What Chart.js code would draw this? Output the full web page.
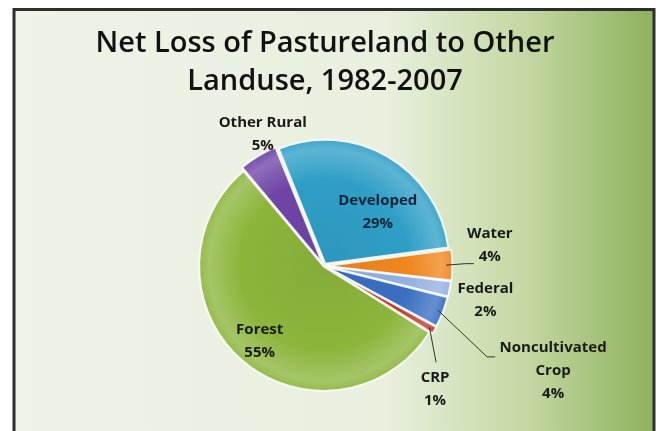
<!DOCTYPE html>
<html>
<head>
<meta charset="utf-8">
<title>Net Loss of Pastureland to Other Landuse, 1982-2007</title>
<script src="https://cdn.jsdelivr.net/npm/chart.js@4.4.1/dist/chart.umd.min.js"></script>
<style>
  html, body { margin: 0; padding: 0; background: #fff; }
  #wrap { width: 660px; height: 431px; }
</style>
</head>
<body>
<div id="wrap"><canvas id="lossChart" width="660" height="431"></canvas></div>
<script>
// Share of pastureland lost to each use, 1982-2007 (percent)
const categories = ['Developed', 'Water', 'Federal', 'Noncultivated Crop', 'CRP', 'Forest', 'Other Rural'];
const shares = [29, 4, 2, 4, 1, 55, 5];
const sliceColors = ['#2f9fc6', '#f0871f', '#94b1e2', '#3a6fc2', '#c23a2c', '#8cb53c', '#6f45a6'];
const sliceOffsets = [10, 10, 8, 8, 8, 2, 10];

// label text lines, and where each one sits (distance from centre, angle in degrees)
const labelLines = [
    ['Developed', '29%'], ['Water', '4%'], ['Federal', '2%'],
    ['Noncultivated', 'Crop', '4%'], ['CRP', '1%'], ['Forest', '55%'], ['Other Rural', '5%']
];
const labelPlace = [
    { r: 76, deg: -45 }, { r: 167, deg: -7 }, { r: 165, deg: 12 },
    { r: 252, deg: 24.6 }, { r: 166, deg: 48 }, { r: 99, deg: 130.5 }, { r: 145, deg: -115 }
];
// leader lines: elbow and end, relative to the label centre
const leaders = [
    null,
    [[-24, 18], [-16, 18]],
    null,
    [[-66, -14], [-58, -14]],
    [[1, -27], [1, -27]],
    null, null
];

function shade(hex, amt) {
    const n = parseInt(hex.slice(1), 16);
    let r = n >> 16, g = (n >> 8) & 255, b = n & 255;
    const f = c => Math.max(0, Math.min(255, Math.round(amt >= 0 ? c + (255 - c) * amt : c * (1 + amt))));
    return 'rgb(' + f(r) + ',' + f(g) + ',' + f(b) + ')';
}

// bevel-ish fill: base colour, lighter band near the rim, darker edge
function sliceFill(context) {
    const chart = context.chart;
    const area = chart.chartArea;
    const base = sliceColors[context.dataIndex];
    if (!area) return base;
    const cx = (area.left + area.right) / 2;
    const cy = (area.top + area.bottom) / 2;
    const g = chart.ctx.createRadialGradient(cx, cy, 0, cx, cy, 140);
    g.addColorStop(0, shade(base, -0.05));
    g.addColorStop(0.6, base);
    g.addColorStop(0.82, shade(base, 0.22));
    g.addColorStop(0.93, base);
    g.addColorStop(1, shade(base, -0.3));
    return g;
}

const framePlugin = {
    id: 'frame',
    beforeDraw(chart) {
        const ctx = chart.ctx;
        const w = chart.width, h = chart.height;
        ctx.save();
        ctx.fillStyle = '#ffffff';
        ctx.fillRect(0, 0, w, h);
        const bg = ctx.createLinearGradient(14, 0, 654, 0);
        bg.addColorStop(0, '#eef2e7');
        bg.addColorStop(0.58, '#e9f0de');
        bg.addColorStop(0.8, '#c3d8a2');
        bg.addColorStop(1, '#8eb15c');
        ctx.fillStyle = bg;
        ctx.fillRect(14, 9, 640, h);
        ctx.strokeStyle = '#2e2e2e';
        ctx.lineWidth = 3;
        ctx.strokeRect(14, 9.5, 640, h + 10);

        ctx.fillStyle = '#111';
        ctx.textAlign = 'center';
        ctx.textBaseline = 'middle';
        ctx.font = '600 29px "Open Sans", sans-serif';
        ctx.fillText('Net Loss of Pastureland to Other', 325, 44);
        ctx.fillText('Landuse, 1982-2007', 325, 82);
        ctx.restore();
    }
};

const labelPlugin = {
    id: 'sliceLabels',
    afterDatasetsDraw(chart) {
        const ctx = chart.ctx;
        const area = chart.chartArea;
        const cx = (area.left + area.right) / 2;
        const cy = (area.top + area.bottom) / 2;
        const arcs = chart.getDatasetMeta(0).data;
        ctx.save();
        ctx.font = 'bold 15px "Open Sans", sans-serif';
        ctx.textAlign = 'center';
        ctx.textBaseline = 'middle';
        arcs.forEach((arc, i) => {
            const p = arc.getProps(['x', 'y', 'startAngle', 'endAngle', 'outerRadius'], true);
            const mid = (p.startAngle + p.endAngle) / 2;
            const a = labelPlace[i].deg * Math.PI / 180;
            const lx = cx + labelPlace[i].r * Math.cos(a);
            const ly = cy + labelPlace[i].r * Math.sin(a);
            const lines = labelLines[i];
            const top = ly - (lines.length - 1) * 23 / 2;

            if (leaders[i]) {
                ctx.strokeStyle = '#333';
                ctx.lineWidth = 1;
                ctx.beginPath();
                ctx.moveTo(p.x + (p.outerRadius - 2) * Math.cos(mid), p.y + (p.outerRadius - 2) * Math.sin(mid));
                ctx.lineTo(lx + leaders[i][0][0], ly + leaders[i][0][1]);
                ctx.lineTo(lx + leaders[i][1][0], ly + leaders[i][1][1]);
                ctx.stroke();
            }

            ctx.fillStyle = i === 0 ? '#14243a' : '#1a1a1a';
            lines.forEach((t, k) => ctx.fillText(t, lx, top + k * 23));
        });
        ctx.restore();
    }
};

new Chart(document.getElementById('lossChart'), {
    type: 'pie',
    data: {
        labels: categories,
        datasets: [{
            data: shares,
            backgroundColor: sliceFill,
            borderColor: 'rgba(255,255,255,0.85)',
            borderWidth: 2,
            offset: sliceOffsets,
            radius: 124
        }]
    },
    options: {
        responsive: false,
        animation: false,
        rotation: -22,
        layout: { padding: { left: 0, right: 12, top: 111, bottom: 10 } },
        plugins: {
            legend: { display: false },
            title: { display: false },
            tooltip: { enabled: false }
        }
    },
    plugins: [framePlugin, labelPlugin]
});
</script>
</body>
</html>
